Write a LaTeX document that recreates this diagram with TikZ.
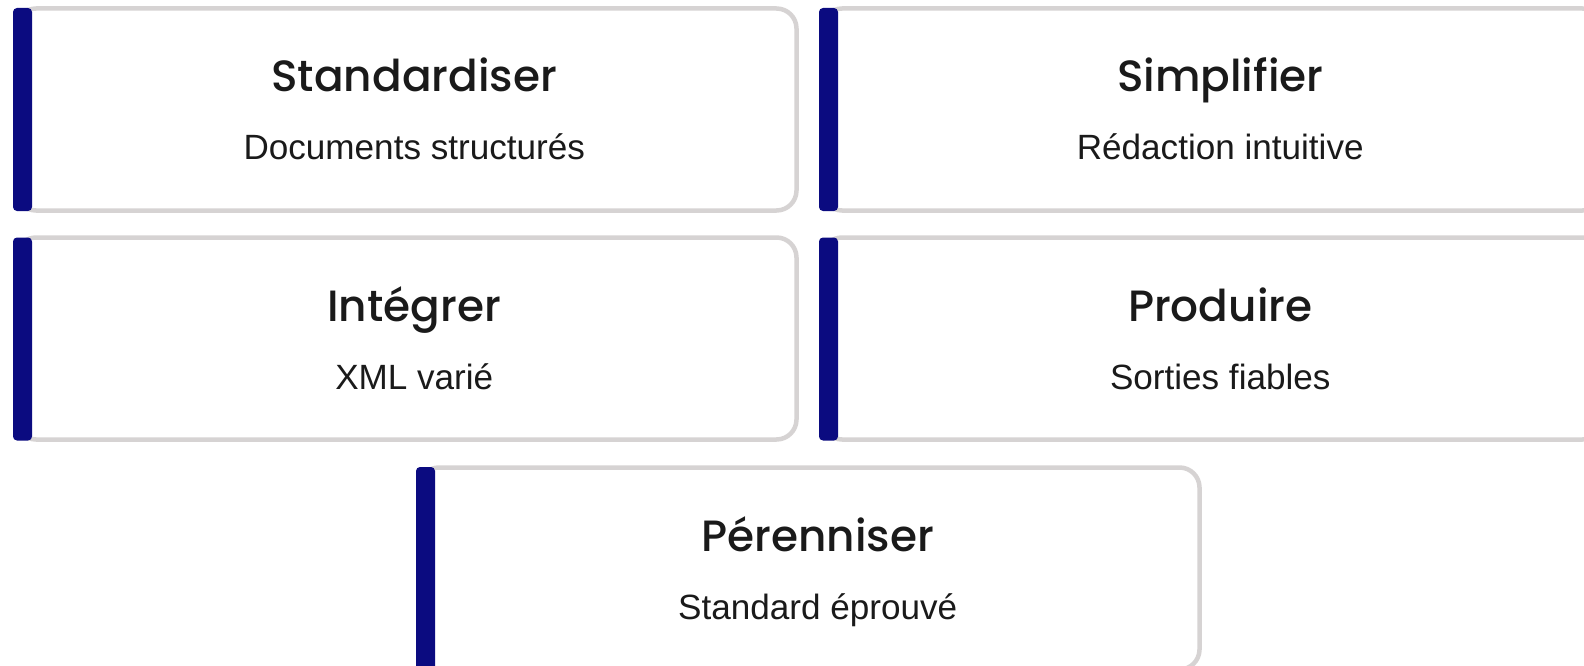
\documentclass[tikz,border=0pt]{standalone}
\usepackage{fontspec}
\setmainfont{Liberation Sans}
\newfontfamily\titlefont{Poppins Medium}
\definecolor{barnavy}{RGB}{11,11,128}
\definecolor{bordergray}{RGB}{214,211,211}
\definecolor{ink}{RGB}{26,26,26}
\tikzset{
  card/.style={draw=bordergray, line width=4.5pt, rounded corners=20pt, fill=white,
    minimum width=780.5pt, minimum height=202pt, inner sep=0pt, outer sep=0pt, anchor=north west},
  accent/.style={fill=barnavy, rounded corners=4pt, minimum width=19pt, minimum height=203pt,
    inner sep=0pt, outer sep=0pt, anchor=north west},
  ttl/.style={anchor=base, inner sep=0pt, text=ink, font=\titlefont\fontsize{43.8}{50}\selectfont},
  sub/.style={anchor=base, inner sep=0pt, text=ink, font=\fontsize{35.1}{42}\selectfont},
}
\begin{document}
\begin{tikzpicture}[x=1pt,y=-1pt]
\useasboundingbox (0,0) rectangle (1584,666);
\clip (0,0) rectangle (1584,666);
% row 1
\node[card] (c1) at (16,8.5) {};
\node[accent] (b1) at (13,8) {};
\node[ttl] (t1) at (414.25,92) {Standardiser};
\node[sub] (s1) at (414.25,159.5) {Documents structurés};
\node[card] (c2) at (822,8.5) {};
\node[accent] (b2) at (819,8) {};
\node[ttl] (t2) at (1220.25,92) {Simplifier};
\node[sub] (s2) at (1220.25,159.5) {Rédaction intuitive};
% row 2
\node[card] (c3) at (16,237.5) {};
\node[accent] (b3) at (13,237.5) {};
\node[ttl] (t3) at (414.25,321.5) {Intégrer};
\node[sub] (s3) at (414.25,389.5) {XML varié};
\node[card] (c4) at (822,237.5) {};
\node[accent] (b4) at (819,237.5) {};
\node[ttl] (t4) at (1220.25,321.5) {Produire};
\node[sub] (s4) at (1220.25,389.5) {Sorties fiables};
% row 3
\node[card] (c5) at (419,467.5) {};
\node[accent] (b5) at (416,467) {};
\node[ttl] (t5) at (817.75,551.5) {Pérenniser};
\node[sub] (s5) at (817.75,619.5) {Standard éprouvé};
\end{tikzpicture}
\end{document}
